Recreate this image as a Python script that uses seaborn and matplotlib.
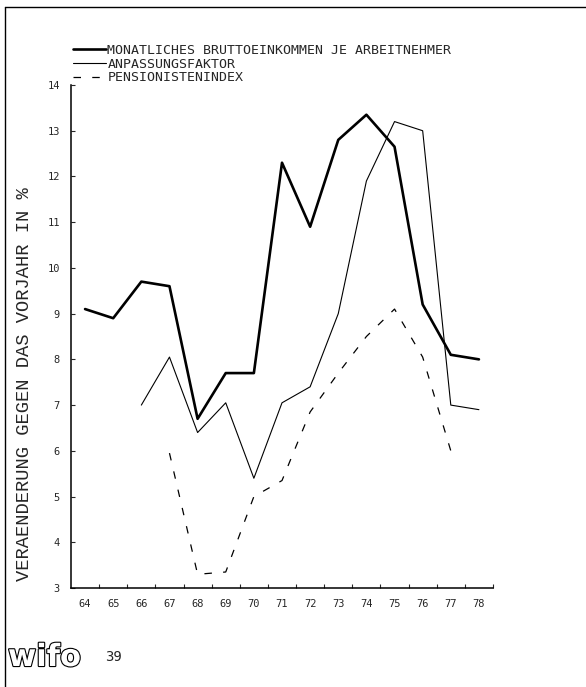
import numpy as np
import pandas as pd
import seaborn as sns
import matplotlib
matplotlib.use('Agg')
import matplotlib.pyplot as plt
from matplotlib.lines import Line2D
import matplotlib.patheffects as pe

years = list(range(64, 79))
brutto = [9.1, 8.9, 9.7, 9.6, 6.7, 7.7, 7.7, 12.3, 10.9, 12.8, 13.35, 12.65, 9.2, 8.1, 8.0]
anpassung = [np.nan, np.nan, 7.0, 8.05, 6.4, 7.05, 5.4, 7.05, 7.4, 9.0, 11.9, 13.2, 13.0, 7.0, 6.9]
pension = [np.nan, np.nan, np.nan, 5.95, 3.3, 3.35, 5.0, 5.35, 6.85, 7.7, 8.5, 9.1, 8.05, 6.0, np.nan]
labels = ['MONATLICHES BRUTTOEINKOMMEN JE ARBEITNEHMER', 'ANPASSUNGSFAKTOR', 'PENSIONISTENINDEX']
y_title = 'VERAENDERUNG GEGEN DAS VORJAHR IN %'

def main():
  sns.set_style('white')
  plt.rcParams['font.family'] = ['DejaVu Sans Mono', 'DejaVu Sans']

  W, H = 586, 687
  fig = plt.figure(figsize=(W/100, H/100), dpi=100)
  ax = fig.add_axes([71/W, 1 - 588/H, 422/W, 503/H])

  df = pd.DataFrame({'year': years, 'brutto': brutto, 'anpassung': anpassung, 'pension': pension})
  sns.lineplot(data=df, x='year', y='brutto', ax=ax, color='black', linewidth=1.9, label=labels[0])
  sns.lineplot(data=df, x='year', y='anpassung', ax=ax, color='black', linewidth=0.8, label=labels[1])
  sns.lineplot(data=df, x='year', y='pension', ax=ax, color='black', linewidth=0.9, label=labels[2])
  ax.lines[2].set_dashes((6, 9))

  ax.set_xlim(63.5, 78.5)
  ax.set_ylim(3, 14)
  ax.set_xlabel('')
  ax.set_ylabel('')
  for s in ['top', 'right']:
    ax.spines[s].set_visible(False)
  for s in ['left', 'bottom']:
    ax.spines[s].set_linewidth(1.1)
    ax.spines[s].set_color('black')

  ax.set_xticks(years)
  ax.set_xticklabels([str(y) for y in years], fontsize=7.5)
  ax.set_xticks([y + 0.5 for y in years], minor=True)
  ax.tick_params(axis='x', which='major', length=0, pad=8)
  ax.tick_params(axis='x', which='minor', direction='in', length=3, width=0.8, bottom=True)
  ax.set_yticks(range(3, 15))
  ax.set_yticklabels([str(v) for v in range(3, 15)], fontsize=7.5)
  ax.tick_params(axis='y', which='major', direction='in', length=3, width=0.8, left=True, pad=8)

  ax.get_legend().remove()
  handles = ax.lines[:3]
  fig.legend(handles, labels, loc='upper left', bbox_to_anchor=(73/W, 1 - 44/H),
             frameon=False, fontsize=9.5, handlelength=2.5, handletextpad=0.1,
             labelspacing=0.05, borderpad=0, borderaxespad=0)

  fig.text(25/W, 1 - 384/H, y_title, rotation=90, ha='center', va='center',
           fontsize=13.5, family='Liberation Mono')

  # page frame of the scan
  fig.add_artist(Line2D([5/W, 5/W], [0, 1 - 7/H], transform=fig.transFigure, color='black', lw=1))
  fig.add_artist(Line2D([5/W, 1], [1 - 7/H, 1 - 7/H], transform=fig.transFigure, color='black', lw=1))

  t = fig.text(8/W, 1 - 666/H, 'wifo', fontsize=22, fontweight='bold', color='white',
               family='DejaVu Sans', ha='left', va='baseline')
  t.set_path_effects([pe.Stroke(linewidth=1.6, foreground='black'), pe.Normal()])
  fig.text(105/W, 1 - 657/H, '39', fontsize=10, ha='left', va='center')

  fig.savefig('out.png', dpi=100)

if __name__ == '__main__':
  main()
